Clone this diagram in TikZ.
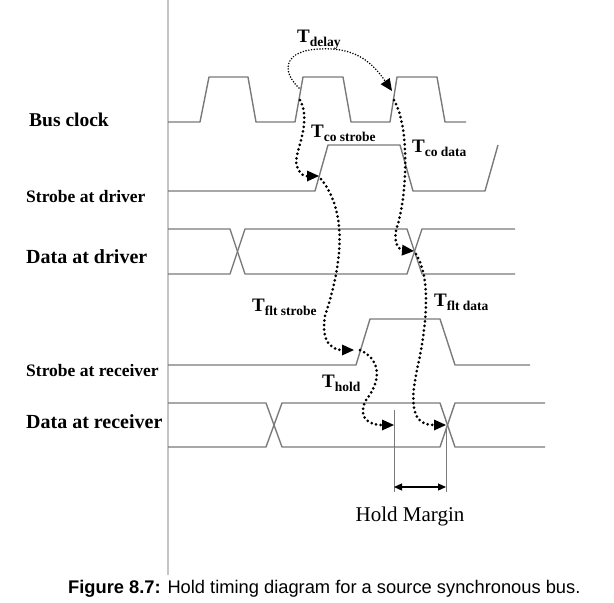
\documentclass[tikz,border=0pt]{standalone}
\usepackage{fontspec}
\setmainfont{Liberation Serif}
\newfontfamily\capfont{Liberation Sans}
\usetikzlibrary{arrows.meta}

\definecolor{wavegray}{HTML}{7A7A7A}
\definecolor{railgray}{HTML}{C4C4C4}
\newcommand{\tname}[1]{\fontsize{19}{22}\selectfont\bfseries T\raisebox{-4pt}{\fontsize{13.5}{16}\selectfont #1}}

\tikzset{
	wave/.style={draw=wavegray,line width=1.4pt,line join=round},
	sig/.style={inner sep=0pt,anchor=base west,font=\fontsize{17.5}{20}\selectfont\bfseries},
	sigbig/.style={sig,font=\fontsize{20}{24}\selectfont\bfseries},
	tlab/.style={inner sep=0pt,anchor=base west},
	flight/.style={line width=3pt,line cap=round,dash pattern=on 0pt off 4.6pt,
		-{Triangle[length=12pt,width=11pt,line width=0pt]}},
	thinflight/.style={flight,line width=1.7pt,dash pattern=on 0pt off 2.8pt},
	marker/.style={draw=wavegray,line width=0.6pt}
}

\begin{document}
\begin{tikzpicture}[x=1pt,y=-1pt]
	\useasboundingbox (0,0) rectangle (614,603);

	\draw[draw=railgray,line width=1.5pt] (168,0) -- (168,575);

	\coordinate (clkb) at (299,88);
	\coordinate (clkbl) at (300,100);
	\coordinate (clkc) at (392,91);
	\coordinate (clkcl) at (394,100);
	\coordinate (sdrise) at (319,176);
	\coordinate (sdrisel) at (321,179);
	\coordinate (ddcross) at (414,251);
	\coordinate (ddcrossl) at (416,254);
	\coordinate (srrise) at (354,350);
	\coordinate (srrisel) at (360,350);
	\coordinate (holdl) at (394,425);
	\coordinate (drcross) at (446,425);

	\node[sig] (lblclk) at (29,126) {\fontsize{19.5}{22}\selectfont Bus clock};
	\node[sig] (lblsd) at (26,202) {Strobe at driver};
	\node[sigbig] (lbldd) at (26,263) {Data at driver};
	\node[sig] (lblsr) at (26,376) {Strobe at receiver};
	\node[sigbig] (lbldr) at (26,428) {Data at receiver};

	\draw[wave] (168,122) -- (200,122) -- (209,77) -- (248,77) -- (256,122) -- (295,122) -- (303,77) -- (343,77) -- (351,122) -- (390,122) -- (397,77) -- (437,77) -- (445,122) -- (466,122);
	\draw[wave] (168,191) -- (315,191) -- (328,145) -- (400,145) -- (413,191) -- (485,191) -- (498,145);
	\draw[wave] (168,229) -- (230,229) -- (245,274) -- (407,274) -- (422,229) -- (515,229);
	\draw[wave] (168,274) -- (230,274) -- (245,229) -- (407,229) -- (422,274) -- (515,274);
	\draw[wave] (168,365) -- (356,365) -- (370,319) -- (440,319) -- (455,365) -- (530,365);
	\draw[wave] (168,403) -- (266,403) -- (282,447) -- (440,447) -- (455,403) -- (545,403);
	\draw[wave] (168,447) -- (266,447) -- (282,403) -- (440,403) -- (455,447) -- (545,447);

	\node[tlab] (tdelay) at (297,42) {\tname{delay}};
	\node[tlab] (tcostrobe) at (311,137) {\tname{co strobe}};
	\node[tlab] (tcodata) at (412,152) {\tname{co data}};
	\node[tlab] (tfltstrobe) at (252,311) {\tname{flt strobe}};
	\node[tlab] (tfltdata) at (434,306) {\tname{flt data}};
	\node[tlab] (thold) at (322,387) {\tname{hold}};

	\draw[thinflight] (clkb) .. controls (280,70) and (285,50) .. (320,49) .. controls (355,47) and (372,62) .. (clkc);
	\draw[flight] (clkbl) .. controls (313,125) and (292,155) .. (297,166) .. controls (300,176) and (306,176) .. (sdrise);
	\draw[flight] (sdrisel) .. controls (350,215) and (340,270) .. (325,316) .. controls (320,345) and (335,350) .. (srrise);
	\draw[flight] (srrisel) .. controls (385,362) and (378,385) .. (366,400) .. controls (356,420) and (372,425) .. (holdl);
	\draw[flight] (clkcl) .. controls (411,130) and (406,200) .. (397,227) .. controls (392,243) and (400,250) .. (ddcross);
	\draw[flight] (ddcrossl) .. controls (432,280) and (426,330) .. (417,370) .. controls (408,412) and (416,425) .. (drcross);

	\coordinate (mla) at (394,487);
	\coordinate (mlb) at (446,487);
	\draw[marker] (394,410) -- (394,492);
	\draw[marker] (446,428) -- (446,492);
	\draw[line width=1.2pt,{Triangle[length=8pt,width=7pt]}-{Triangle[length=8pt,width=7pt]}] (mla) -- (mlb);
	\node[inner sep=0pt,anchor=base] (margin) at (410,521) {\fontsize{21}{25}\selectfont Hold Margin};

	\node[inner sep=0pt,anchor=base west] (caption) at (68,593) {\capfont\fontsize{18.3}{21}\selectfont\textbf{Figure 8.7:} Hold timing diagram for a source synchronous bus.};
\end{tikzpicture}
\end{document}
